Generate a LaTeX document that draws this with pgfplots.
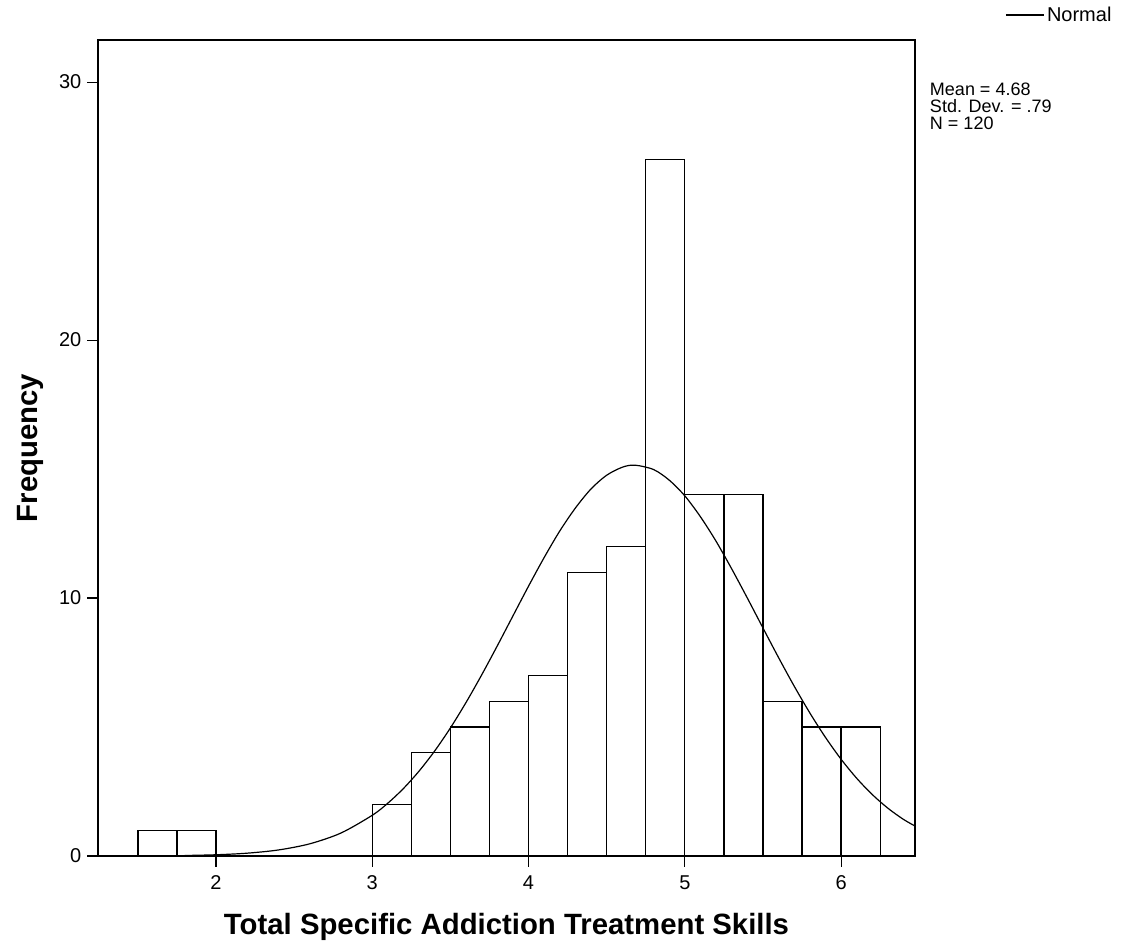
\documentclass[border=0pt]{standalone}
\usepackage{fontspec}
\setmainfont{Liberation Sans}
\usepackage{pgfplots}
\pgfplotsset{compat=1.18}
\begin{document}
\begin{tikzpicture}
\useasboundingbox (-73.5pt,-71.25pt) rectangle (771pt,642pt);
\begin{axis}[
  at={(0pt,0pt)}, anchor=south west,
  scale only axis, width=612.75pt, height=612pt,
  xmin=1.245, xmax=6.473, ymin=0, ymax=31.63,
  xtick={2,3,4,5,6}, ytick={0,10,20,30},
  tick align=outside, tick pos=left,
  major tick length=8pt,
  tick style={black, line width=0.8pt},
  axis line style={line width=0.8pt},
  ticklabel style={font=\fontsize{15}{18}\selectfont},
  xticklabel style={yshift=-3pt},
  yticklabel style={xshift=-1pt},
  /pgf/number format/assume math mode=true,
  xlabel={Total Specific Addiction Treatment Skills},
  ylabel={Frequency},
  label style={font=\fontsize{22}{24}\selectfont\bfseries},
  xlabel style={at={(rel axis cs:0.5,0)}, anchor=center, yshift=-53pt},
  ylabel style={at={(rel axis cs:0,0.5)}, anchor=center, yshift=51pt},
  clip=false,
  legend style={at={(1.110,1.0306)}, anchor=west, draw=none, fill=none,
    font=\fontsize{15}{18}\selectfont, inner sep=0pt},
  legend cell align=left,
  legend image code/.code={\draw[#1] (0pt,0pt) -- (28.5pt,0pt);},
]
\addplot[ybar interval, fill=white, draw=black, line width=1pt, forget plot] coordinates {
(1.50,1) (1.75,1) (2.00,0) (2.25,0) (2.50,0) (2.75,0) (3.00,2) (3.25,4)
(3.50,5) (3.75,6) (4.00,7) (4.25,11) (4.50,12) (4.75,27) (5.00,14)
(5.25,14) (5.50,6) (5.75,5) (6.00,5) (6.25,5)
};
\addplot[black, line width=0.9pt, smooth, mark=none] coordinates {
(1.8,0.020) (2.0,0.048) (2.2,0.110) (2.4,0.235) (2.6,0.473) (2.8,0.892)
(3.0,1.579) (3.1,2.050) (3.2,2.620) (3.3,3.295) (3.4,4.077) (3.5,4.965)
(3.6,5.951) (3.7,7.019) (3.8,8.146) (3.9,9.305) (4.0,10.46) (4.1,11.57)
(4.2,12.60) (4.3,13.49) (4.4,14.23) (4.5,14.76) (4.6,15.07) (4.68,15.15)
(4.8,14.98) (4.9,14.57) (5.0,13.96) (5.1,13.15) (5.2,12.20) (5.3,11.13)
(5.4,10.00) (5.5,8.840) (5.6,7.690) (5.7,6.583) (5.8,5.545) (5.9,4.598)
(6.0,3.751) (6.1,3.012) (6.2,2.380) (6.3,1.850) (6.4,1.416) (6.473,1.163)
};
\addlegendentry{Normal}
\node[anchor=north west, align=left, inner sep=0pt,
  font=\fontsize{13.5}{13}\selectfont]
  at (rel axis cs:1.018,0.948) {Mean = 4.68\\Std. Dev. = .79\\N = 120};
\end{axis}
\end{tikzpicture}
\end{document}
